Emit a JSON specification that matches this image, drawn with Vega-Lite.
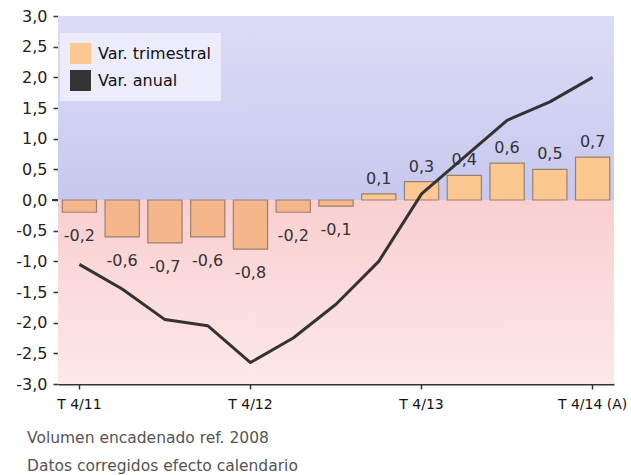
{
  "$schema": "https://vega.github.io/schema/vega-lite/v6.json",
  "width": 556,
  "height": 368,
  "autosize": "none",
  "padding": {"left": 58, "top": 16, "right": 17, "bottom": 91},
  "background": "white",
  "data": {
    "values": [
      {"q": "T 4/11", "trim": -0.2, "anual": -1.05},
      {"q": "T 1/12", "trim": -0.6, "anual": -1.45},
      {"q": "T 2/12", "trim": -0.7, "anual": -1.95},
      {"q": "T 3/12", "trim": -0.6, "anual": -2.05},
      {"q": "T 4/12", "trim": -0.8, "anual": -2.65},
      {"q": "T 1/13", "trim": -0.2, "anual": -2.25},
      {"q": "T 2/13", "trim": -0.1, "anual": -1.7},
      {"q": "T 3/13", "trim": 0.1, "anual": -1.0},
      {"q": "T 4/13", "trim": 0.3, "anual": 0.1},
      {"q": "T 1/14", "trim": 0.4, "anual": 0.7},
      {"q": "T 2/14", "trim": 0.6, "anual": 1.3},
      {"q": "T 3/14", "trim": 0.5, "anual": 1.6},
      {"q": "T 4/14 (A)", "trim": 0.7, "anual": 2.0}
    ]
  },
  "title": {
    "text": ["Volumen encadenado ref. 2008", "Datos corregidos efecto calendario"],
    "orient": "bottom",
    "anchor": "start",
    "frame": "group",
    "dx": -31,
    "offset": 20,
    "font": "DejaVu Sans",
    "fontSize": 15.5,
    "fontWeight": "normal",
    "color": "#555555",
    "lineHeight": 28
  },
  "config": {
    "view": {"stroke": null},
    "font": "DejaVu Sans",
    "locale": {"number": {"decimal": ",", "thousands": ".", "grouping": [3], "currency": ["", " €"], "minus": "-"}},
    "axisY": {
      "domain": false,
      "grid": false,
      "tickSize": 5,
      "tickColor": "#333333",
      "tickWidth": 1.5,
      "labelPadding": 6,
      "labelFont": "DejaVu Sans",
      "labelFontSize": 16,
      "labelColor": "#222222",
      "values": [-3, -2.5, -2, -1.5, -1, -0.5, 0, 0.5, 1, 1.5, 2, 2.5, 3],
      "format": ".1f",
      "titleAngle": 0,
      "titleX": 1,
      "titleY": 351,
      "titleAlign": "left",
      "titleBaseline": "middle",
      "titleFont": "DejaVu Sans",
      "titleFontSize": 14,
      "titleFontWeight": "normal",
      "titleColor": "#333333"
    },
    "axisX": {
      "domain": true,
      "domainColor": "#333333",
      "domainWidth": 2,
      "grid": false,
      "tickSize": 5,
      "tickColor": "#333333",
      "tickWidth": 1.5,
      "bandPosition": 0.5,
      "labelPadding": 8,
      "labelFont": "DejaVu Sans",
      "labelFontSize": 14,
      "labelFontWeight": "normal",
      "labelColor": "#111111",
      "labelAngle": 0
    }
  },
  "layer": [
    {
      "mark": {
        "type": "rect",
        "fill": {
          "gradient": "linear", "x1": 0, "y1": 0, "x2": 0, "y2": 1,
          "stops": [{"offset": 0, "color": "#dcdcf6"}, {"offset": 1, "color": "#c8c8ee"}]
        }
      },
      "encoding": {
        "y": {"datum": 3, "type": "quantitative", "scale": {"domain": [-3, 3], "nice": false}, "axis": {"title": "%"}},
        "y2": {"datum": 0}
      }
    },
    {
      "mark": {
        "type": "rect",
        "fill": {
          "gradient": "linear", "x1": 0, "y1": 0, "x2": 0, "y2": 1,
          "stops": [{"offset": 0, "color": "#f9cfd0"}, {"offset": 1, "color": "#fde8e8"}]
        }
      },
      "encoding": {
        "y": {"datum": 0, "type": "quantitative", "axis": {"title": "%"}},
        "y2": {"datum": -3}
      }
    },
    {
      "transform": [{"filter": "datum.trim >= 0"}],
      "mark": {"type": "bar", "stroke": "#9a8070", "strokeWidth": 1.2, "opacity": 1},
      "encoding": {
        "x": {
          "field": "q", "type": "nominal", "sort": null,
          "scale": {
            "domain": ["T 4/11", "T 1/12", "T 2/12", "T 3/12", "T 4/12", "T 1/13", "T 2/13", "T 3/13", "T 4/13", "T 1/14", "T 2/14", "T 3/14", "T 4/14 (A)"],
            "paddingInner": 0.2, "paddingOuter": 0.1
          },
          "axis": {"title": null, "values": ["T 4/11", "T 4/12", "T 4/13", "T 4/14 (A)"]}
        },
        "y": {"field": "trim", "type": "quantitative", "axis": {"title": "%"}},
        "color": {"datum": "Var. trimestral"}
      }
    },
    {
      "transform": [{"filter": "datum.trim < 0"}],
      "mark": {"type": "bar", "fill": "#f4b68a", "stroke": "#9a8070", "strokeWidth": 1.2},
      "encoding": {
        "x": {"field": "q", "type": "nominal", "sort": null},
        "y": {"field": "trim", "type": "quantitative", "axis": {"title": "%"}}
      }
    },
    {
      "mark": {"type": "rule", "color": "#333333", "strokeWidth": 2, "x": -6},
      "encoding": {
        "y": {"datum": 0, "type": "quantitative"}
      }
    },
    {
      "mark": {"type": "line", "strokeWidth": 3, "strokeJoin": "round"},
      "encoding": {
        "x": {"field": "q", "type": "nominal", "sort": null},
        "y": {"field": "anual", "type": "quantitative", "axis": {"title": "%"}},
        "color": {
          "datum": "Var. anual",
          "scale": {"domain": ["Var. trimestral", "Var. anual"], "range": ["#fbc891", "#333333"]},
          "legend": {
            "title": null,
            "orient": "none",
            "legendX": 2,
            "legendY": 17,
            "fillColor": "#ececfa",
            "padding": 10,
            "symbolType": "square",
            "symbolSize": 441,
            "symbolStrokeWidth": 0,
            "symbolOpacity": 1,
            "rowPadding": 6,
            "labelOffset": 7,
            "labelFont": "DejaVu Sans",
            "labelFontSize": 16,
            "labelColor": "#111111",
            "encode": {
              "symbols": {"update": {"fill": {"scale": "color", "field": "value"}, "opacity": {"value": 1}}}
            }
          }
        }
      }
    },
    {
      "transform": [{"filter": "datum.trim >= 0"}],
      "mark": {"type": "text", "font": "DejaVu Sans", "fontSize": 16, "color": "#333333", "baseline": "middle", "dy": -15},
      "encoding": {
        "x": {"field": "q", "type": "nominal", "sort": null},
        "y": {"field": "trim", "type": "quantitative"},
        "text": {"field": "trim", "type": "quantitative", "format": ".1f"}
      }
    },
    {
      "transform": [{"filter": "datum.trim < 0"}],
      "mark": {"type": "text", "font": "DejaVu Sans", "fontSize": 16, "color": "#333333", "baseline": "middle", "dy": 24},
      "encoding": {
        "x": {"field": "q", "type": "nominal", "sort": null},
        "y": {"field": "trim", "type": "quantitative"},
        "text": {"field": "trim", "type": "quantitative", "format": ".1f"}
      }
    }
  ]
}
